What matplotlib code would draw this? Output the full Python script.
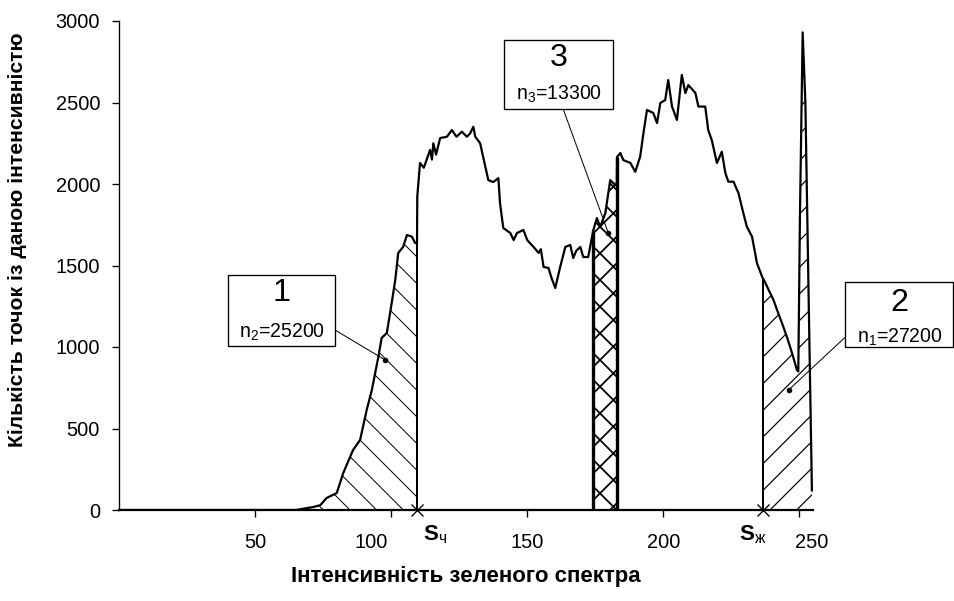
import numpy as np
import matplotlib
matplotlib.use("Agg")
import matplotlib.pyplot as plt
from matplotlib.patches import Rectangle
from matplotlib.transforms import ScaledTranslation

plt.rcParams['font.family'] = ['Liberation Sans', 'DejaVu Sans']
plt.rcParams['mathtext.fontset'] = 'custom'
plt.rcParams['mathtext.rm'] = 'Liberation Sans'
plt.rcParams['mathtext.it'] = 'Liberation Sans:italic'
plt.rcParams['mathtext.bf'] = 'Liberation Sans:bold'

# histogram of green intensity
intensity = [0, 65, 71.3, 74, 76.3, 80, 82.4, 86, 88.6, 91, 92.9, 95.3, 96.5, 98.4,
             100.2, 101.5, 102.6, 104.4, 105.8, 107.6, 108.8, 109.5, 109.6, 110.6,
             112, 113, 114.3, 115, 115.5, 116.5, 118, 120.5, 122.3, 124, 126, 127.8,
             129, 130.2, 130.9, 132.7, 133.8, 135.7, 137.5, 139.4, 140, 141.2, 143.8,
             145, 146.2, 148.6, 150, 152.3, 154.2, 155, 156, 157.8, 159, 160.3, 162.1,
             164, 165.8, 166.9, 168, 169.5, 170.6, 172.4, 174.3, 175.6, 176.8, 178.7,
             180.5, 181.6, 182.9, 183, 184.2, 185.3, 187.9, 189.7, 191.5, 192.7, 194,
             196.3, 197.7, 198.9, 200.7, 201.8, 203.2, 205, 206.8, 208.1, 209.2, 211.8,
             212.9, 215.4, 216.5, 217.8, 219.7, 221.5, 222.8, 223.9, 225.8, 227.6,
             229.4, 230.7, 232.6, 234.4, 236.3, 237.5, 238.7, 240.5, 241.8, 243.6,
             245.4, 247.3, 249.1, 249.6, 250.2, 251.2, 252.2, 253.2, 254.6]
counts = [0, 0, 18, 30, 74, 104, 227, 368, 430, 613, 736, 940, 1055, 1086,
          1270, 1411, 1577, 1614, 1687, 1677, 1638, 1640, 1922, 2129,
          2100, 2147, 2209, 2150, 2250, 2180, 2282, 2290, 2331, 2290, 2321, 2290,
          2310, 2351, 2290, 2250, 2166, 2024, 2012, 2036, 1883, 1730, 1699,
          1656, 1699, 1718, 1656, 1614, 1577, 1600, 1491, 1485, 1420, 1362, 1491,
          1614, 1626, 1546, 1590, 1614, 1552, 1552, 1718, 1791, 1736, 1822,
          2024, 2006, 1990, 2166, 2190, 2147, 2129, 2075, 2168, 2313, 2454,
          2436, 2374, 2497, 2515, 2638, 2475, 2393, 2669, 2558, 2607, 2558,
          2475, 2475, 2331, 2270, 2129, 2198, 2067, 2014, 2014, 1945,
          1822, 1738, 1677, 1515, 1431, 1393, 1350, 1288, 1227, 1147,
          1063, 963, 859, 850, 1800, 2930, 2500, 1500, 120]

s_ch = 109.5   # S_ч threshold
s_zh = 236.8   # S_ж threshold
zone3 = (174.3, 183.0)
zone1_start = 72

x_ticks = [50, 100, 150, 200, 250]
y_ticks = [0, 500, 1000, 1500, 2000, 2500, 3000]
zone_names = ['1', '2', '3']
zone_counts = ['n$_2$=25200', 'n$_1$=27200', 'n$_3$=13300']

x = np.array(intensity)
y = np.array(counts)

fig = plt.figure(figsize=(954 / 160, 601 / 160), dpi=160)
ax = fig.add_axes([119 / 954, 1 - 510 / 601, 694 / 954, 489 / 601])

# hatched zones
def fill_zone(x0, x1, hatch, hlw):
    xs = np.concatenate([[x0], x[(x > x0) & (x < x1)], [x1]])
    ys = np.interp(xs, x, y)
    plt.rcParams['hatch.linewidth'] = hlw
    ax.fill_between(xs, 0, ys, facecolor='none', edgecolor='black',
                    hatch=hatch, linewidth=0)

fill_zone(zone1_start, s_ch, '\\\\', 0.45)
fill_zone(s_zh, x[-1], '//', 0.55)
fill_zone(zone3[0], zone3[1], 'xx', 0.8)

ax.plot(x, y, color='black', lw=1.0)

# boundary lines
ax.vlines([s_ch, s_zh], 0, np.interp([s_ch, s_zh], x, y), color='black', lw=0.9)
ax.vlines(list(zone3), 0, np.interp(list(zone3), x, y), color='black', lw=1.5)
ax.plot([s_ch, s_zh], [0, 0], 'x', color='black', ms=5, mew=0.6, clip_on=False)

ax.set_xlim(0, 255)
ax.set_ylim(0, 3000)
for s in ['top', 'right']:
    ax.spines[s].set_visible(False)
ax.spines['left'].set_linewidth(0.6)
ax.spines['bottom'].set_linewidth(1.0)

ax.set_xticks(x_ticks)
ax.set_xticks([s_ch, s_zh], [r'$\mathbf{S}_{\mathrm{ч}}$', r'$\mathbf{S}_{\mathrm{ж}}$'],
              minor=True)
ax.set_yticks(y_ticks)
ax.tick_params(axis='x', which='major', direction='out', length=3, width=0.6,
               pad=7.5, labelsize=9)
ax.tick_params(axis='x', which='minor', length=0, pad=6, labelsize=10)
ax.tick_params(axis='y', direction='out', length=3, width=0.6, pad=5.5, labelsize=9)

# shift crowded tick labels aside, as in the original
def nudge(tick, dx):
    lbl = tick.label1
    lbl.set_transform(lbl.get_transform() +
                      ScaledTranslation(dx / 160, 0, fig.dpi_scale_trans))

shifts = {100: -20, 250: 12}
for tick, loc in zip(ax.xaxis.get_major_ticks(len(x_ticks)), x_ticks):
    if loc in shifts:
        nudge(tick, shifts[loc])
for tick, dx in zip(ax.xaxis.get_minor_ticks(2), [18, -11]):
    nudge(tick, dx)

ax.set_xlabel('Інтенсивність зеленого спектра', fontsize=10, fontweight='bold',
              labelpad=6)
ax.set_ylabel('Кількість точок із даною інтенсивністю', fontsize=9.5,
              fontweight='bold')
ax.yaxis.set_label_coords(-0.1326, 0.552)

# labelled boxes: (x0, x1, y0, y1), big label y, count y, leader start, leader end
boxes = [
    ((40.1, 79.4, 1006, 1442), 1331, 1092, (79.4, 1104), (97.8, 920)),
    ((266.9, 306.6, 1000, 1399), 1270, 1061, (266.9, 1061), (246.0, 736)),
    ((141.5, 181.6, 2460, 2883), 2776, 2552, (163.2, 2460), (179.8, 1699)),
]
for name, cnt, (ext, ybig, ycnt, p0, p1) in zip(zone_names, zone_counts, boxes):
    x0, x1, y0, y1 = ext
    ax.add_patch(Rectangle((x0, y0), x1 - x0, y1 - y0, facecolor='white',
                           edgecolor='black', lw=0.6, clip_on=False, zorder=5))
    xc = (x0 + x1) / 2
    ax.text(xc, ybig, name, ha='center', va='center', fontsize=14.5, zorder=6,
            clip_on=False)
    ax.text(xc, ycnt, cnt, ha='center', va='center', fontsize=8.8, zorder=6,
            clip_on=False)
    ax.plot([p0[0], p1[0]], [p0[1], p1[1]], color='black', lw=0.45, clip_on=False)
    ax.plot([p1[0]], [p1[1]], 'o', color='black', ms=1.5, clip_on=False)

fig.savefig('out.png', dpi=160)
